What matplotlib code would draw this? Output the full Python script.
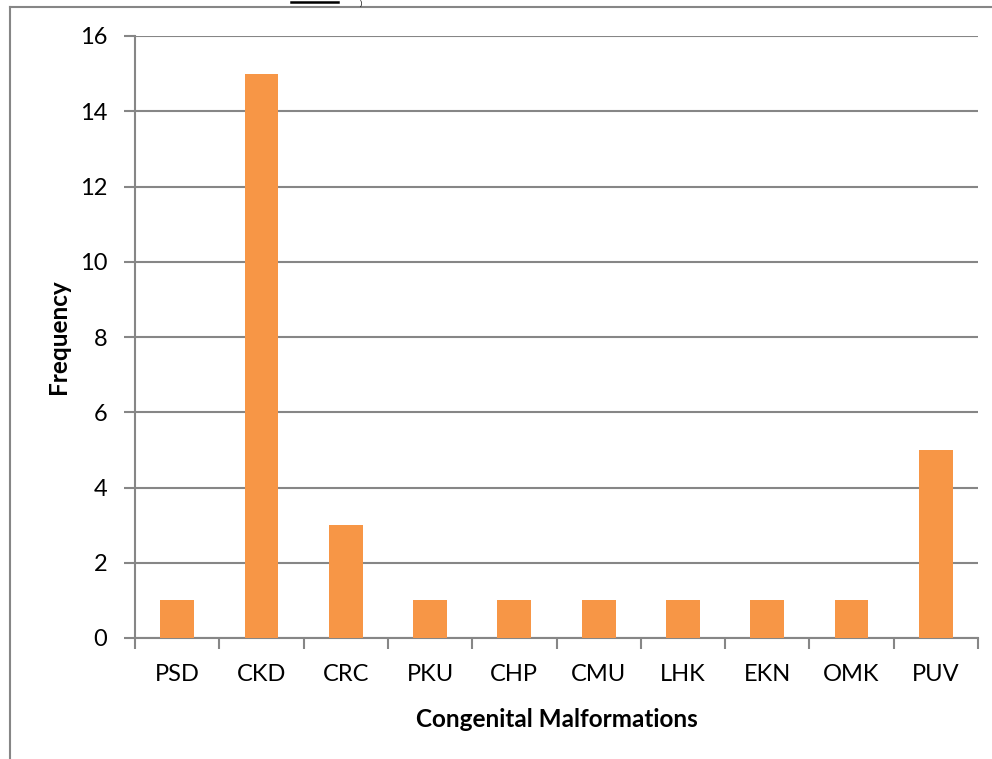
import matplotlib
matplotlib.use("Agg")
import matplotlib.pyplot as plt
from matplotlib.lines import Line2D

categories = ["PSD", "CKD", "CRC", "PKU", "CHP", "CMU", "LHK", "EKN", "OMK", "PUV"]
frequency = [1, 15, 3, 1, 1, 1, 1, 1, 1, 5]
y_ticks = [0, 2, 4, 6, 8, 10, 12, 14, 16]

W, H = 992, 759
fig = plt.figure(figsize=(W / 100, H / 100), dpi=100)
fig.patch.set_facecolor("white")

grey = "#868686"
font = ["Lato", "DejaVu Sans"]

ax = fig.add_axes([135 / W, (H - 638) / H, (978 - 135) / W, (638 - 36) / H])
x = list(range(len(categories)))
ax.bar(x, frequency, width=0.4, color="#F79646", zorder=3)

ax.set_xlim(-0.5, len(categories) - 0.5)
ax.set_ylim(0, 16)
ax.set_yticks(y_ticks)
ax.set_yticklabels([str(v) for v in y_ticks], fontsize=17, family=font)
ax.yaxis.grid(True, color=grey, linewidth=1.5, zorder=0)
ax.set_axisbelow(True)

# category labels centred, tick marks on category boundaries
ax.set_xticks(x)
ax.set_xticklabels(categories, fontsize=17, family=font)
ax.tick_params(axis="x", which="major", length=0, pad=19)
ax.set_xticks([i - 0.5 for i in range(len(categories) + 1)], minor=True)
ax.tick_params(axis="x", which="minor", length=8, width=1.5, color=grey)
ax.tick_params(axis="y", length=8, width=1.5, color=grey, pad=12)

for side in ["top", "right"]:
    ax.spines[side].set_visible(False)
for side in ["left", "bottom"]:
    ax.spines[side].set_color(grey)
    ax.spines[side].set_linewidth(1.5)

ax.set_xlabel("Congenital Malformations", fontsize=17.5, fontweight="bold",
              family=font, labelpad=16)
ax.set_ylabel("Frequency", fontsize=17.5, fontweight="bold", family=font,
              labelpad=7)

# outer frame of the chart box
fig.add_artist(Line2D([9.5 / W, 9.5 / W], [0, (H - 7) / H], color=grey,
                      linewidth=1.5, transform=fig.transFigure))
fig.add_artist(Line2D([9.5 / W, 1], [(H - 7) / H, (H - 7) / H], color=grey,
                      linewidth=1.5, transform=fig.transFigure))

# remnants of the surrounding text above the chart
fig.add_artist(Line2D([291 / W, 338 / W], [(H - 2) / H, (H - 2) / H],
                      color="black", linewidth=1.8, transform=fig.transFigure))
fig.text(360 / W, 1.0, ")", fontsize=6, family=font, va="top", ha="left")

fig.savefig("out.png", dpi=100, facecolor="white")
